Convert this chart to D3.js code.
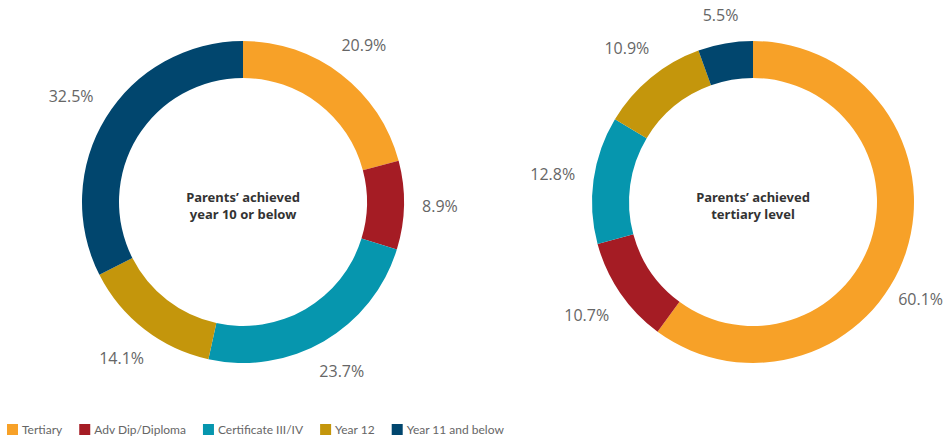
<!DOCTYPE html>
<html>
<head>
<meta charset="utf-8">
<script src="https://cdnjs.cloudflare.com/ajax/libs/d3/7.8.5/d3.min.js"></script>
<style>
    body { margin: 0; background: #fff; }
    svg { display: block; }
</style>
</head>
<body>
<div id="vis"></div>
<script>
// Data
var categories = ["Tertiary", "Adv Dip/Diploma", "Certificate III/IV", "Year 12", "Year 11 and below"];
var colours = ["#f7a128", "#a51c24", "#0696ae", "#c4960c", "#01466e"];
var belowYear10 = [20.9, 8.9, 23.7, 14.1, 32.5];
var tertiaryLevel = [60.1, 10.7, 12.8, 10.9, 5.5];
var titles = [
    ["Parents\u2019 achieved", "year 10 or below"],
    ["Parents\u2019 achieved", "tertiary level"]
];

var width = 946,
    height = 439,
    outerR = 161,
    innerR = 124,
    cy = 202;

var colorScale = d3.scaleOrdinal().domain(categories).range(colours);

// donut centres
var x = d3.scalePoint()
    .domain([0, 1])
    .range([243, 753]);

var svg = d3.select("#vis").append("svg")
    .attr("width", width)
    .attr("height", height);

var pie = d3.pie().sort(null).value(function(d) { return d.value; });
var arc = d3.arc().innerRadius(innerR).outerRadius(outerR);

var donuts = [belowYear10, tertiaryLevel];

donuts.forEach(function(values, i) {
    var data = values.map(function(v, j) {
        return { key: categories[j], value: v };
    });

    var g = svg.append("g")
        .attr("transform", "translate(" + x(i) + "," + cy + ")");

    g.selectAll(".slice")
        .data(pie(data))
        .enter()
        .append("path")
        .attr("class", "slice")
        .attr("d", arc)
        .style("fill", function(d) { return colorScale(d.data.key); });

    // value labels outside the ring
    g.selectAll(".label")
        .data(pie(data))
        .enter()
        .append("text")
        .attr("class", "label")
        .attr("text-anchor", "middle")
        .attr("dy", "0.35em")
        .style("font-family", "'Open Sans', sans-serif")
        .style("font-size", "16px")
        .style("fill", "#666")
        .text(function(d) { return d.data.value.toFixed(1) + "%"; })
        .each(function(d) {
            var w = this.getComputedTextLength(), h = 14;
            var a = (d.startAngle + d.endAngle) / 2;
            var s = Math.sin(a), c = Math.cos(a);
            var dist = outerR + 18 + Math.abs(s) * w / 2 + Math.abs(c) * h / 2;
            var lx = dist * s, ly = -dist * c;
            // keep the text inside the page, sliding it round the ring
            var maxX = width - x(i) - w / 2 - 3;
            if (lx > maxX) {
                lx = maxX;
                var r = outerR + 10;
                var edge = lx - w / 2;
                ly = (Math.sqrt(Math.max(r * r - edge * edge, 0)) + h / 2) * (c < 0 ? 1 : -1);
            }
            d3.select(this).attr("x", lx).attr("y", ly);
        });

    // centre title
    g.append("text")
        .attr("text-anchor", "middle")
        .style("font-family", "'Noto Sans', sans-serif")
        .style("font-weight", "bold")
        .style("font-size", "13px")
        .style("fill", "#333")
        .selectAll("tspan")
        .data(titles[i])
        .enter()
        .append("tspan")
        .attr("x", 0)
        .attr("y", function(d, k) { return 0 + k * 17; })
        .text(function(d) { return d; });
});

// Legend
var legend = svg.append("g")
    .attr("class", "legend")
    .attr("transform", "translate(7,424)");

var lx = 0;
categories.forEach(function(c) {
    var item = legend.append("g").attr("transform", "translate(" + lx + ",0)");
    item.append("rect")
        .attr("width", 11)
        .attr("height", 11)
        .style("fill", colorScale(c));
    var t = item.append("text")
        .attr("x", 15)
        .attr("y", 10)
        .style("font-family", "Lato, sans-serif")
        .style("font-size", "12px")
        .style("fill", "#666")
        .text(c);
    lx += 15 + t.node().getComputedTextLength() + 17;
});
</script>
</body>
</html>
